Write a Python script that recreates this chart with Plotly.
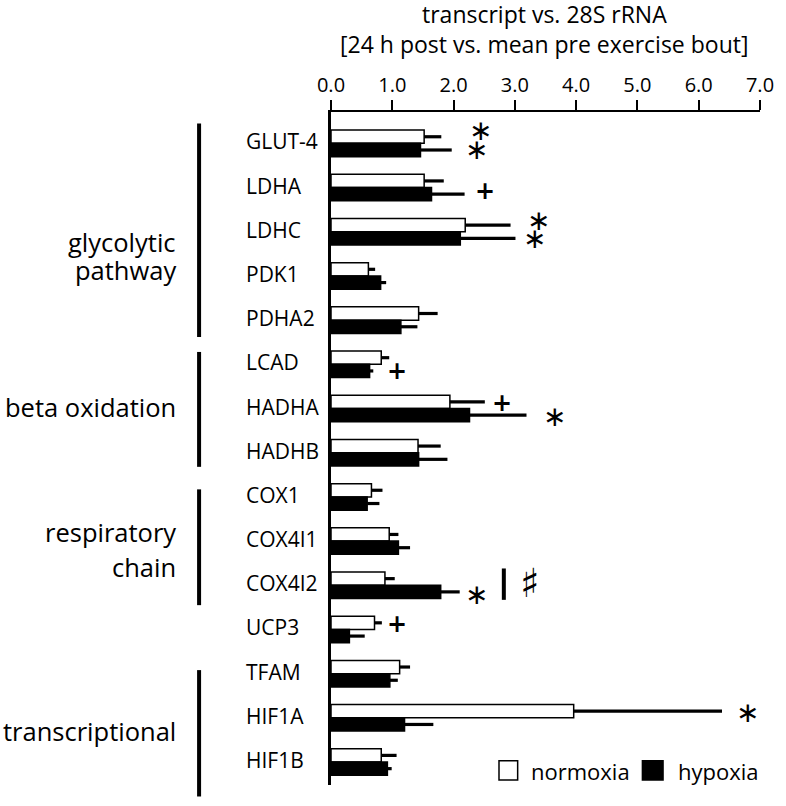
import plotly.graph_objects as go

genes = ["GLUT-4", "LDHA", "LDHC", "PDK1", "PDHA2", "LCAD", "HADHA", "HADHB",
         "COX1", "COX4I1", "COX4I2", "UCP3", "TFAM", "HIF1A", "HIF1B"]
normoxia = [1.52, 1.52, 2.19, 0.61, 1.43, 0.82, 1.94, 1.42, 0.66, 0.95, 0.88, 0.71, 1.12, 3.96, 0.82]
normoxia_err = [0.28, 0.32, 0.74, 0.11, 0.31, 0.13, 0.57, 0.37, 0.18, 0.15, 0.16, 0.12, 0.17, 2.42, 0.25]
hypoxia = [1.46, 1.64, 2.11, 0.81, 1.14, 0.63, 2.26, 1.43, 0.59, 1.10, 1.79, 0.30, 0.96, 1.20, 0.92]
hypoxia_err = [0.51, 0.54, 0.90, 0.09, 0.27, 0.06, 0.93, 0.47, 0.20, 0.19, 0.31, 0.25, 0.13, 0.47, 0.07]
x_ticks = [0, 1, 2, 3, 4, 5, 6, 7]

title_lines = ["transcript vs. 28S rRNA", "[24 h post vs. mean pre exercise bout]"]
groups = [("glycolytic", "pathway"), ("beta oxidation",), ("respiratory", "chain"), ("transcriptional",)]
group_spans = [(-0.45, 4.38), (4.72, 7.32), (7.83, 10.45), (11.92, 14.78)]
group_centers = [2.55, 5.97, 9.18, 13.29]
group_line_gap = [28, 0, 35, 0]

# significance markers: (text, x, category position)
markers = [
    ("∗", 2.44, -0.285), ("∗", 2.38, 0.136),
    ("+", 2.52, 1.07),
    ("∗", 3.38, 1.735), ("∗", 3.32, 2.15),
    ("+", 1.08, 5.145),
    ("+", 2.79, 5.87), ("∗", 3.64, 6.17),
    ("∗", 2.38, 10.22), ("♯", 3.24, 9.95),
    ("+", 1.08, 10.88),
    ("∗", 6.79, 12.88),
]

FONT = "Open Sans"
Y_RANGE = [14.52, -0.71]


def cat_to_paper(k):
    return (Y_RANGE[0] - k) / (Y_RANGE[0] - Y_RANGE[1])


fig = go.Figure()
fig.add_trace(go.Bar(
    y=genes, x=normoxia, orientation="h", name="normoxia",
    marker=dict(color="white", line=dict(color="black", width=1.5)),
    error_x=dict(type="data", array=normoxia_err, arrayminus=[0] * len(genes),
                 symmetric=False, thickness=3.2, width=0, color="black"),
    showlegend=False,
))
fig.add_trace(go.Bar(
    y=genes, x=hypoxia, orientation="h", name="hypoxia",
    marker=dict(color="black", line=dict(color="black", width=1.5)),
    error_x=dict(type="data", array=hypoxia_err, arrayminus=[0] * len(genes),
                 symmetric=False, thickness=3.2, width=0, color="black"),
    showlegend=False,
))

annotations = []
# title (two lines)
for t, yp in zip(title_lines, [1.145, 1.101]):
    annotations.append(dict(x=0.497, xref="paper", y=yp, yref="paper", text=t,
                            xanchor="center", yanchor="middle", showarrow=False,
                            font=dict(family=FONT, size=23, color="black")))
# gene labels (left aligned)
for g in genes:
    annotations.append(dict(x=-0.2028, xref="paper", y=g, yref="y", text=g,
                            xanchor="left", yanchor="middle", showarrow=False,
                            font=dict(family=FONT, size=21, color="black"), yshift=2))
# group labels
for lines, c, gap in zip(groups, group_centers, group_line_gap):
    n = len(lines)
    for i, t in enumerate(lines):
        off = (i - (n - 1) / 2) * gap
        annotations.append(dict(x=-0.357, xref="paper", y=cat_to_paper(c), yref="paper",
                                text=t, xanchor="right", yanchor="middle", showarrow=False,
                                yshift=-off,
                                font=dict(family=FONT, size=25.5, color="black")))
# significance markers
for t, x, k in markers:
    if t == "∗":
        txt, fnt = t, dict(family="DejaVu Sans", size=28, color="black")
    elif t == "+":
        txt, fnt = "<b>+</b>", dict(family="DejaVu Sans", size=24, color="black")
    else:
        txt, fnt = "<b>" + t + "</b>", dict(family="DejaVu Sans", size=40, color="black")
    annotations.append(dict(x=x, xref="x", y=k, yref="y", text=txt, showarrow=False,
                            xanchor="center", yanchor="middle", font=fnt))
# legend
annotations.append(dict(x=0.4626, xref="paper", y=0.0212, yref="paper", text="normoxia",
                        xanchor="left", yanchor="middle", showarrow=False,
                        font=dict(family=FONT, size=22, color="black")))
annotations.append(dict(x=0.8037, xref="paper", y=0.0212, yref="paper", text="hypoxia",
                        xanchor="left", yanchor="middle", showarrow=False,
                        font=dict(family=FONT, size=22, color="black")))

shapes = []
for (a, b) in group_spans:
    shapes.append(dict(type="line", xref="paper", yref="paper", x0=-0.3075, x1=-0.3075,
                       y0=cat_to_paper(a), y1=cat_to_paper(b),
                       line=dict(color="black", width=4)))
# COX4I2 comparison bar
shapes.append(dict(type="line", xref="x", yref="paper", x0=2.82, x1=2.82,
                   y0=cat_to_paper(9.62), y1=cat_to_paper(10.33),
                   line=dict(color="black", width=4)))
# legend swatches
shapes.append(dict(type="rect", xref="paper", yref="paper", x0=0.3916, x1=0.4351,
                   y0=0.0074, y1=0.0361, fillcolor="white", line=dict(color="black", width=1.5)))
shapes.append(dict(type="rect", xref="paper", yref="paper", x0=0.7259, x1=0.774,
                   y0=0.0074, y1=0.0361, fillcolor="black", line=dict(color="black", width=1.5)))

fig.update_layout(
    width=786, height=806,
    margin=dict(l=331, r=18, t=112, b=21),
    paper_bgcolor="white", plot_bgcolor="white",
    barmode="group", bargap=0.4, bargroupgap=0,
    hovermode=False,
    xaxis=dict(side="top", range=[0, 7], tickvals=x_ticks, tickformat=".1f",
               ticks="outside", ticklen=10, tickwidth=2, tickcolor="black",
               showline=True, linewidth=2, linecolor="black", showgrid=False,
               zeroline=False, tickfont=dict(family=FONT, size=20, color="black")),
    yaxis=dict(range=Y_RANGE, showticklabels=False, ticks="", showline=True,
               linewidth=3.5, linecolor="black", showgrid=False, zeroline=False,
               categoryorder="array", categoryarray=genes),
    annotations=annotations, shapes=shapes,
    font=dict(family=FONT, color="black"),
)
fig.write_html("out.html", config={"displayModeBar": False, "staticPlot": True},
               post_script="document.body.style.margin='0';document.body.style.overflow='hidden';")
